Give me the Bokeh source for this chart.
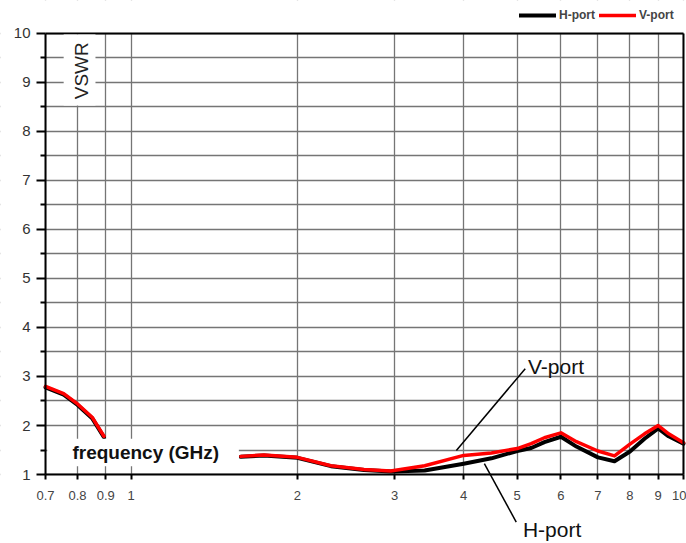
import numpy as np
from bokeh.plotting import figure
from bokeh.models import (FixedTicker, NumeralTickFormatter, Legend, LegendItem,
                          BoxAnnotation, Label, Arrow, LinearAxis, LogAxis)
from bokeh.embed import file_html
from bokeh.resources import INLINE

nan = float("nan")

# ---- data ----
freq = [0.70, 0.755, 0.80, 0.85, 0.893, nan, 1.58, 1.74, 2.0, 2.30, 2.64, 2.95,
        3.4, 4.0, 4.49, 5.0, 5.3, 5.6, 6.0, 6.4, 7.0, 7.5, 8.0, 8.5, 9.0, 9.4, 10.0]
v_port = [2.80, 2.65, 2.44, 2.17, 1.78, nan, 1.37, 1.40, 1.35, 1.18, 1.10, 1.07,
          1.18, 1.39, 1.44, 1.53, 1.63, 1.75, 1.85, 1.67, 1.48, 1.38, 1.62, 1.83, 2.00, 1.83, 1.65]
h_port = [2.78, 2.63, 2.42, 2.15, 1.76, nan, 1.36, 1.39, 1.34, 1.17, 1.09, 1.06,
          1.08, 1.22, 1.33, 1.48, 1.54, 1.66, 1.77, 1.57, 1.35, 1.27, 1.47, 1.73, 1.94, 1.78, 1.63]

x_ticks = [0.7, 0.8, 0.9, 1, 2, 3, 4, 5, 6, 7, 8, 9, 10]
y_ticks = [1, 2, 3, 4, 5, 6, 7, 8, 9, 10]
y_minor = [1.5, 2.5, 3.5, 4.5, 5.5, 6.5, 7.5, 8.5, 9.5]

FONT = "Liberation Sans"

W, H = 686, 543
# the frame covers the whole figure; the chart area itself is x = 0.7..10, y = 1..10
X_LOW, X_HIGH = 0.5802, 10.126
Y_LOW, Y_HIGH = -0.408, 10.673

p = figure(width=W, height=H, x_axis_type="log",
           x_range=(X_LOW, X_HIGH), y_range=(Y_LOW, Y_HIGH),
           output_backend="svg", toolbar_location=None,
           min_border_left=0, min_border_right=0,
           min_border_top=0, min_border_bottom=0,
           background_fill_color="white", border_fill_color="white")

p.outline_line_color = None

# axes drawn at the chart-area edges
p.xaxis.ticker = FixedTicker(ticks=x_ticks, minor_ticks=[])
p.xaxis.formatter = NumeralTickFormatter(format="0[.]0")
p.xaxis.fixed_location = 1
p.xaxis.bounds = (0.7, 10)
p.yaxis.ticker = FixedTicker(ticks=y_ticks, minor_ticks=y_minor)
p.yaxis.fixed_location = 0.7
p.yaxis.bounds = (1, 10)

for ax in (p.xaxis[0], p.yaxis[0]):
    ax.axis_line_color = "black"
    ax.axis_line_width = 2
    ax.major_tick_line_color = "black"
    ax.major_tick_line_width = 2
    ax.minor_tick_line_color = "black"
    ax.minor_tick_line_width = 2
    ax.major_tick_in = 0
    ax.minor_tick_in = 0
    ax.major_label_text_font = FONT

p.xaxis.major_tick_out = 5
p.xaxis.major_label_text_font_size = "13px"
p.xaxis.major_label_text_color = "#444444"
p.xaxis.major_label_standoff = 11

p.yaxis.major_tick_out = 9
p.yaxis.minor_tick_out = 5
p.yaxis.major_label_text_font_size = "15px"
p.yaxis.major_label_text_color = "#333333"
p.yaxis.major_label_standoff = 6

# right and top borders of the chart area
right_ax = LinearAxis(ticker=FixedTicker(ticks=[]), bounds=(1, 10), fixed_location=10,
                      axis_line_color="black", axis_line_width=2,
                      major_tick_line_color=None, minor_tick_line_color=None)
p.add_layout(right_ax, "right")
top_ax = LogAxis(ticker=FixedTicker(ticks=[]), bounds=(0.7, 10), fixed_location=10,
                 axis_line_color="black", axis_line_width=2,
                 major_tick_line_color=None, minor_tick_line_color=None)
p.add_layout(top_ax, "above")

# grid
GRID = "#757575"
p.xgrid.ticker = FixedTicker(ticks=x_ticks, minor_ticks=[])
p.xgrid.grid_line_color = GRID
p.xgrid.grid_line_width = 1.3
p.ygrid.grid_line_color = GRID
p.ygrid.grid_line_width = 1.3
p.ygrid.minor_grid_line_color = GRID
p.ygrid.minor_grid_line_width = 1.3

# hide grid outside the chart area
for kw in (dict(top=1), dict(bottom=10), dict(right=0.7), dict(left=10)):
    p.add_layout(BoxAnnotation(fill_color="white", fill_alpha=1, line_alpha=0,
                               level="underlay", **kw))

# curves
rh = p.line(np.array(freq), np.array(h_port), line_color="black", line_width=4,
            line_join="round", line_cap="round")
rv = p.line(np.array(freq), np.array(v_port), line_color="#ff0000", line_width=3.5,
            line_join="round", line_cap="round")

# white boxes behind in-plot labels
p.add_layout(BoxAnnotation(left=0.755, right=0.862, bottom=8.53, top=9.98,
                           fill_color="white", fill_alpha=1, line_alpha=0))
p.add_layout(BoxAnnotation(left=0.705, right=1.567, bottom=1.17, top=1.73,
                           fill_color="white", fill_alpha=1, line_alpha=0))

p.add_layout(Label(x=0.813, y=9.24, text="VSWR", angle=np.pi / 2,
                   text_align="center", text_baseline="middle",
                   text_font=FONT, text_font_size="19px", text_color="#222222"))
p.add_layout(Label(x=0.783, y=1.45, text="frequency (GHz)",
                   text_align="left", text_baseline="middle",
                   text_font=FONT, text_font_size="19px", text_font_style="bold",
                   text_color="#111111"))

# leader lines and annotations
p.add_layout(Arrow(x_start=3.88, y_start=1.49, x_end=5.17, y_end=3.16, end=None,
                   line_color="black", line_width=1.5))
p.add_layout(Arrow(x_start=4.36, y_start=1.22, x_end=4.98, y_end=0.03, end=None,
                   line_color="black", line_width=1.5))
p.add_layout(Label(x=5.23, y=3.20, text="V-port", text_align="left",
                   text_baseline="middle", text_font=FONT,
                   text_font_size="21px", text_color="#111111"))
p.add_layout(Label(x=5.12, y=-0.13, text="H-port", text_align="left",
                   text_baseline="middle", text_font=FONT,
                   text_font_size="21px", text_color="#111111"))

# legend above the chart area (bottom-left corner in frame screen px)
legend = Legend(items=[LegendItem(label="H-port", renderers=[rh]),
                       LegendItem(label="V-port", renderers=[rv])],
                orientation="horizontal", location=(517, H - 24),
                label_text_font=FONT, label_text_font_size="12px",
                label_text_font_style="bold", label_text_color="#444444",
                glyph_width=37, glyph_height=12, label_height=12,
                label_standoff=3, spacing=4, padding=2, margin=0,
                border_line_alpha=0, background_fill_alpha=0)
p.add_layout(legend, "center")

open("out.html", "w").write(file_html(p, INLINE))
